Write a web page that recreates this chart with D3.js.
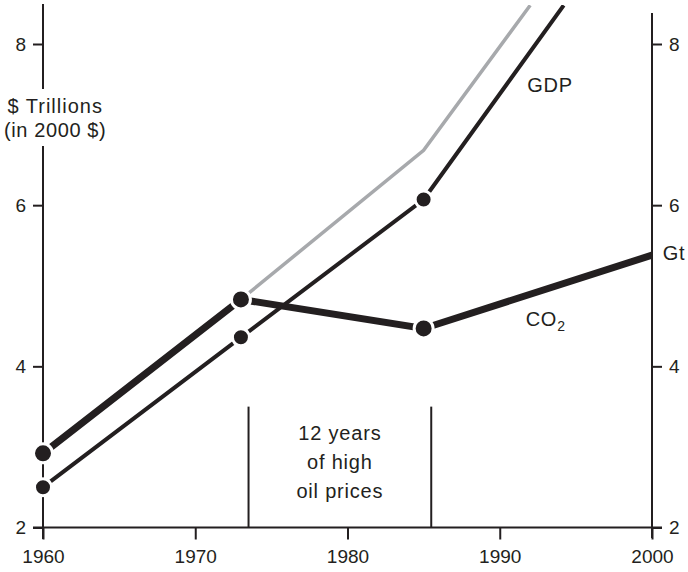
<!DOCTYPE html>
<html>
<head>
<meta charset="utf-8">
<script src="https://cdn.jsdelivr.net/npm/d3@7/dist/d3.min.js"></script>
<style>
  html, body { margin: 0; padding: 0; background: #fff; }
  svg { display: block; }
  text { font-family: "Liberation Sans", Arial, Helvetica, sans-serif; fill: #231f20; }
  .tick text { font-size: 19px !important; }
</style>
</head>
<body>
<svg id="chart" width="688" height="572"></svg>
<script>
// ---- data ----
const xTicks = [1960, 1970, 1980, 1990, 2000];
const yTicks = [2, 4, 6, 8];

const gdpYears  = [1960, 1973, 1985, 1994.2];
const gdpValues = [2.50, 4.36, 6.07, 8.48];

const co2Years  = [1960, 1973, 1985, 2000];
const co2Values = [2.92, 4.83, 4.47, 5.38];

// counterfactual GDP path (grey)
const trendYears  = [1973, 1985, 1992];
const trendValues = [4.83, 6.68, 8.48];

const markerYears = [1960, 1973, 1985];

const oilPeriod = [1973.5, 1985.5];
const oilText = ["12 years", "of high", "oil prices"];

// ---- layout ----
const ink = "#231f20";
const grey = "#a7a9ac";
const svg = d3.select("#chart");
const x = d3.scaleLinear().domain([1960, 2000]).range([43, 652]);
const y = d3.scaleLinear().domain([2, 8]).range([527.5, 44]);

const line = d3.line().x(d => x(d[0])).y(d => y(d[1]));
const zip = (a, b) => a.map((v, i) => [v, b[i]]);

svg.append("defs").append("clipPath").attr("id", "plot")
  .append("rect").attr("x", 0).attr("y", 5).attr("width", 688).attr("height", 560);

// ---- axes ----
const axisStyle = g => {
  g.attr("font-size", 19).attr("font-family", '"Liberation Sans", Arial, sans-serif');
  g.select(".domain").remove();
  g.selectAll(".tick line").attr("stroke", ink).attr("stroke-width", 2);
  g.selectAll(".tick text").attr("fill", ink);
};

svg.append("g").attr("transform", `translate(${x(1960)},0)`)
  .call(d3.axisLeft(y).tickValues(yTicks).tickSize(10).tickPadding(7).tickFormat(d3.format("d")))
  .call(axisStyle);
svg.append("g").attr("transform", `translate(${x(2000)},0)`)
  .call(d3.axisRight(y).tickValues(yTicks).tickSize(10).tickPadding(7).tickFormat(d3.format("d")))
  .call(axisStyle);
svg.append("g").attr("transform", `translate(0,${y(2)})`)
  .call(d3.axisBottom(x).tickValues(xTicks).tickSize(12).tickPadding(10).tickFormat(d3.format("d")))
  .call(axisStyle);

// axis lines
const axisLines = [
  [x(1960), 4, x(1960), 89],
  [x(1960), 146, x(1960), 539],
  [x(2000), 13, x(2000), 538],
  [x(1960) - 10, y(2), x(2000) + 10, y(2)]
];
svg.append("g").selectAll("line").data(axisLines).join("line")
  .attr("x1", d => d[0]).attr("y1", d => d[1]).attr("x2", d => d[2]).attr("y2", d => d[3])
  .attr("stroke", ink).attr("stroke-width", 2);

// y axis label
svg.append("text").attr("x", x(1960.8)).attr("y", y(7.14))
  .attr("text-anchor", "middle").attr("font-size", 20).attr("letter-spacing", 1)
  .text("$ Trillions");
svg.append("text").attr("x", x(1960.8)).attr("y", y(6.85))
  .attr("text-anchor", "middle").attr("font-size", 20).attr("letter-spacing", 0.6)
  .text("(in 2000 $)");

// oil price period
svg.append("g").selectAll("line").data(oilPeriod).join("line")
  .attr("x1", d => x(d)).attr("x2", d => x(d))
  .attr("y1", y(3.5)).attr("y2", y(2))
  .attr("stroke", ink).attr("stroke-width", 2);
const oilBase = [3.09, 2.726, 2.366];
svg.append("g").selectAll("text").data(oilText).join("text")
  .attr("x", x((oilPeriod[0] + oilPeriod[1]) / 2))
  .attr("y", (d, i) => y(oilBase[i]))
  .attr("text-anchor", "middle").attr("font-size", 20).attr("letter-spacing", 0.8)
  .text(d => d);

// ---- series ----
const plot = svg.append("g").attr("clip-path", "url(#plot)");
plot.append("path").datum(zip(trendYears, trendValues)).attr("d", line)
  .attr("fill", "none").attr("stroke", grey).attr("stroke-width", 3.5);
plot.append("path").datum(zip(gdpYears, gdpValues)).attr("d", line)
  .attr("fill", "none").attr("stroke", ink).attr("stroke-width", 4);
plot.append("path").datum(zip(co2Years, co2Values)).attr("d", line)
  .attr("fill", "none").attr("stroke", ink).attr("stroke-width", 7);

// markers
const gdpPts = zip(gdpYears, gdpValues).filter(d => markerYears.includes(d[0]));
const co2Pts = zip(co2Years, co2Values).filter(d => markerYears.includes(d[0]));
plot.append("g").selectAll("circle").data(gdpPts).join("circle")
  .attr("cx", d => x(d[0])).attr("cy", d => y(d[1])).attr("r", 8.5)
  .attr("fill", ink).attr("stroke", "#fff").attr("stroke-width", 3);
plot.append("g").selectAll("circle").data(co2Pts).join("circle")
  .attr("cx", d => x(d[0])).attr("cy", d => y(d[1])).attr("r", 9.5)
  .attr("fill", ink).attr("stroke", "#fff").attr("stroke-width", 3);

// series labels
svg.append("text").attr("x", x(1991.8)).attr("y", y(7.40))
  .attr("font-size", 20).attr("letter-spacing", 0.8).text("GDP");
const co2Label = svg.append("text").attr("x", x(1991.7)).attr("y", y(4.50))
  .attr("font-size", 20).attr("letter-spacing", 0.8);
co2Label.append("tspan").text("CO");
co2Label.append("tspan").attr("font-size", 14).attr("dy", 5).text("2");
svg.append("text").attr("x", x(2000.7)).attr("y", y(5.32))
  .attr("font-size", 20).attr("letter-spacing", 0.8).text("Gt");
</script>
</body>
</html>
